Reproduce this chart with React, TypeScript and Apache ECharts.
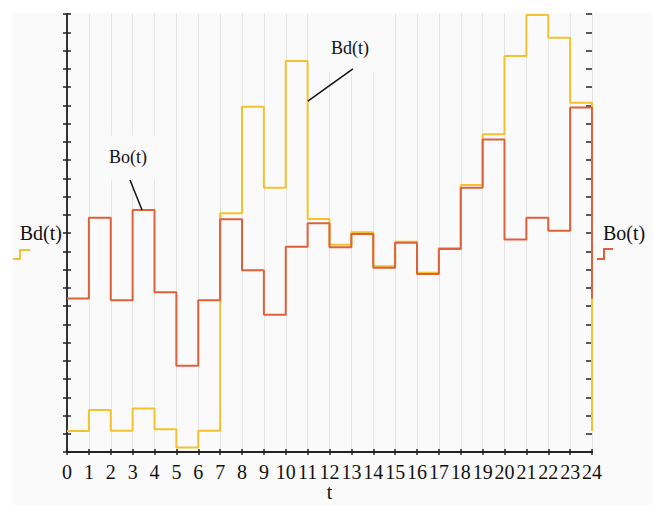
import React, { useEffect, useRef } from 'react';
import * as echarts from 'echarts';

const hours = [0, 1, 2, 3, 4, 5, 6, 7, 8, 9, 10, 11, 12, 13, 14, 15, 16, 17, 18, 19, 20, 21, 22, 23, 24];
const bdValues = [1.15, 2.3, 1.17, 2.39, 1.24, 0.24, 1.17, 13.08, 18.92, 14.48, 21.42, 12.77, 11.36, 12.04, 10.18, 11.52, 9.82, 11.18, 14.63, 17.41, 21.7, 23.95, 22.7, 19.14, 1.15];
const boValues = [8.41, 12.84, 8.31, 13.26, 8.75, 4.73, 8.31, 12.75, 9.96, 7.52, 11.25, 12.53, 11.22, 11.95, 10.1, 11.47, 9.75, 11.12, 14.48, 17.13, 11.65, 12.84, 12.13, 18.87, 8.41];

const seriesNames = ['Bd(t)', 'Bo(t)'];
const xName = 't';

// annotation: text, text centre, line start, line end (data coordinates)
const annotations = [
  { text: 'Bo(t)', label: [2.79, 16.16], from: [2.88, 14.9], to: [3.43, 13.26], pad: [13, 12, 14, 12] },
  { text: 'Bd(t)', label: [12.94, 22.14], from: [13.07, 20.99], to: [11.01, 19.23], pad: [28, 12, 16, 12] },
];

const FONT = 'Liberation Serif';
const YELLOW = '#f4c22f';
const RED = '#e0603a';
const BG = '#fafafa';

export default function App() {
  const ref = useRef<HTMLDivElement>(null);
  useEffect(() => {
    if (!ref.current) return;
    const chart = echarts.init(ref.current, null, { renderer: 'svg' });
    const yBase = {
      type: 'value',
      min: 0,
      max: 24,
      interval: 1,
      axisLabel: { show: false },
      splitLine: { show: false },
    };
    const xBase = {
      type: 'value',
      min: 0,
      max: 24,
      interval: 1,
      position: 'bottom',
    };
    chart.setOption({
      animation: false,
      backgroundColor: BG,
      grid: { left: 54, right: 61, top: 1, bottom: 53, containLabel: false, outerBoundsMode: 'none' },
      xAxis: [
        {
          ...xBase,
          name: xName,
          nameLocation: 'middle',
          nameGap: 30,
          nameMoveOverlap: false,
          nameTextStyle: { fontFamily: FONT, fontSize: 20, color: '#111' },
          axisLine: { show: true, lineStyle: { color: '#222', width: 2 } },
          axisTick: { show: true, length: 3, lineStyle: { color: '#222', width: 1.5 } },
          axisLabel: { fontFamily: FONT, fontSize: 20, color: '#111', margin: 10 },
          splitLine: { show: true, lineStyle: { color: '#e4e4e4', width: 1 } },
        },
        {
          ...xBase,
          axisLine: { show: false },
          axisTick: { show: true, inside: true, length: 3, lineStyle: { color: '#222', width: 1.5 } },
          axisLabel: { show: false },
          splitLine: { show: false },
        },
      ],
      yAxis: [
        {
          ...yBase,
          position: 'left',
          name: seriesNames[0],
          nameLocation: 'middle',
          nameRotate: 0,
          nameGap: 5,
          nameTextStyle: { fontFamily: FONT, fontSize: 20, color: '#111' },
          axisLine: { show: true, lineStyle: { color: '#333', width: 2 } },
          axisTick: { show: true, length: 4, lineStyle: { color: '#222', width: 1.5 } },
        },
        {
          ...yBase,
          position: 'left',
          axisLine: { show: false },
          axisTick: { show: true, inside: true, length: 4, lineStyle: { color: '#222', width: 1.5 } },
        },
        {
          ...yBase,
          position: 'right',
          name: seriesNames[1],
          nameLocation: 'middle',
          nameRotate: 0,
          nameGap: 11,
          nameTextStyle: { fontFamily: FONT, fontSize: 20, color: '#111' },
          axisLine: { show: false },
          axisTick: { show: true, inside: true, length: 6, lineStyle: { color: '#222', width: 1.5 } },
        },
      ],
      series: [
        {
          name: seriesNames[0],
          type: 'line',
          step: 'end',
          xAxisIndex: 0,
          yAxisIndex: 0,
          showSymbol: false,
          data: hours.map((h, i) => [h, bdValues[i]]),
          lineStyle: { color: YELLOW, width: 2 },
          itemStyle: { color: YELLOW },
          z: 3,
        },
        {
          name: seriesNames[1],
          type: 'line',
          step: 'end',
          xAxisIndex: 0,
          yAxisIndex: 2,
          showSymbol: false,
          data: hours.map((h, i) => [h, boValues[i]]),
          lineStyle: { color: RED, width: 2 },
          itemStyle: { color: RED },
          z: 4,
        },
      ],
    });

    const px = (p: number[]) => chart.convertToPixel({ xAxisIndex: 0, yAxisIndex: 0 }, p) as number[];
    const graphics: any[] = [];
    annotations.forEach((a) => {
      const c = px(a.label);
      const s = px(a.from);
      const e = px(a.to);
      const tw = 38;
      const th = 17;
      const [pt, pr, pb, pl] = a.pad;
      graphics.push({
        type: 'rect',
        z: 1,
        shape: { x: c[0] - tw / 2 - pl, y: c[1] - th / 2 - pt, width: tw + pl + pr, height: th + pt + pb },
        style: { fill: BG },
      });
      graphics.push({
        type: 'text',
        z: 5,
        x: c[0],
        y: c[1],
        style: { text: a.text, fontFamily: FONT, fontSize: 18, fill: '#111', align: 'center', verticalAlign: 'middle' },
      });
      graphics.push({
        type: 'line',
        z: 5,
        shape: { x1: s[0], y1: s[1], x2: e[0], y2: e[1] },
        style: { stroke: '#111', lineWidth: 1.5 },
      });
    });
    // small step icons under the axis names
    graphics.push({
      type: 'polyline',
      shape: { points: [[0, 246], [7, 246], [7, 237], [17, 237]] },
      style: { stroke: YELLOW, lineWidth: 2, fill: 'none' },
    });
    graphics.push({
      type: 'polyline',
      shape: { points: [[584, 246], [591, 246], [591, 236], [600, 236]] },
      style: { stroke: RED, lineWidth: 2, fill: 'none' },
    });
    chart.setOption({ graphic: graphics });

    return () => chart.dispose();
  }, []);
  return (
    <div
      ref={ref}
      style={{ position: 'absolute', left: 13, top: 13, width: 640, height: 492 }}
    />
  );
}
